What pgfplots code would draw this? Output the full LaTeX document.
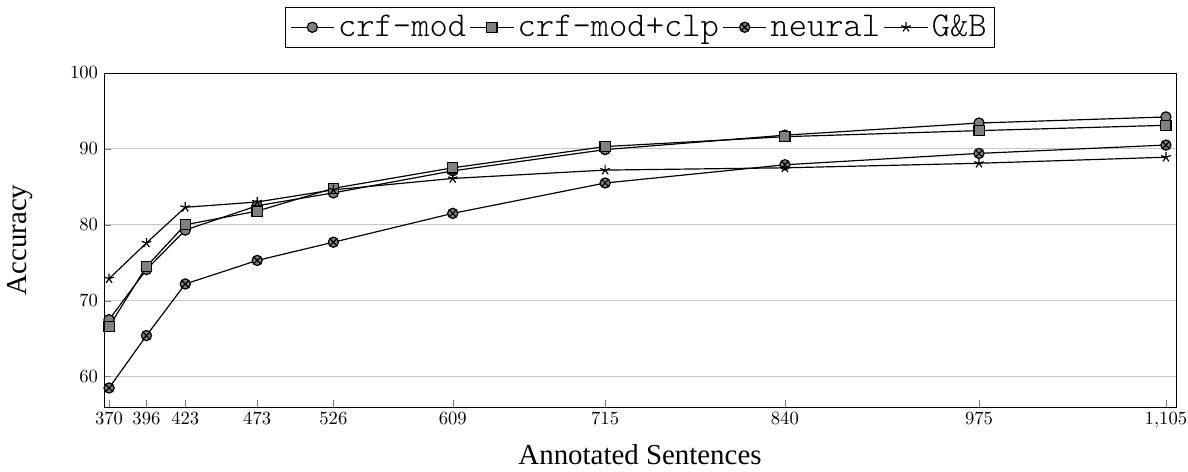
\documentclass[border=0pt]{standalone}
\usepackage[no-math]{fontspec}
\setmainfont{Liberation Serif}
\newfontfamily\legmono{Latin Modern Mono Light}
\usepackage{pgfplots}
\pgfplotsset{compat=1.18}
\begin{document}
\begin{tikzpicture}
\begin{axis}[
  scale only axis,
  width=630.6pt, height=196.5pt,
  xmin=366.5, xmax=1112, ymin=56, ymax=100,
  xtick={370,396,423,473,526,609,715,840,975,1105},
  ytick={60,70,80,90,100},
  tick pos=left,
  ymajorgrids,
  grid style={gray!45, line width=0.5pt},
  xlabel={Annotated Sentences},
  ylabel={Accuracy},
  label style={font=\fontsize{17}{20}\selectfont},
  xlabel style={at={(axis description cs:0.5,-0.1437)}, anchor=center},
  ylabel style={at={(axis description cs:-0.0784,0.5)}, anchor=center},
  tick label style={font=\fontsize{10.5}{12}\selectfont},
  legend columns=-1,
  legend style={at={(0.5,1.076)}, anchor=south, draw=black, line width=0.6pt,
    inner sep=2.5pt,
    font=\legmono\fontsize{20.5}{23}\selectfont},
  legend image code/.code={\draw[mark repeat=2,mark phase=2] plot coordinates {(0cm,0cm)(0.45cm,0cm)(0.9cm,0cm)};},
  every axis plot/.append style={black, line width=0.7pt, mark size=3pt},
]
\addplot[black, mark=*, mark options={fill=gray, solid}] coordinates {
(370,67.5) (396,74.1) (423,79.3) (473,82.5) (526,84.2) (609,87.1) (715,89.9) (840,91.8) (975,93.4) (1105,94.2)};
\addlegendentry{crf-mod}
\addplot[black, mark=square*, mark options={fill=gray, solid}] coordinates {
(370,66.6) (396,74.5) (423,80.0) (473,81.8) (526,84.8) (609,87.5) (715,90.3) (840,91.6) (975,92.4) (1105,93.1)};
\addlegendentry{crf-mod+clp}
\addplot[black, mark=otimes*, mark options={fill=gray, solid}] coordinates {
(370,58.5) (396,65.4) (423,72.2) (473,75.3) (526,77.7) (609,81.5) (715,85.5) (840,87.9) (975,89.4) (1105,90.5)};
\addlegendentry{neural}
\addplot[black, mark=star, mark options={solid}] coordinates {
(370,72.9) (396,77.6) (423,82.3) (473,83.0) (526,84.6) (609,86.1) (715,87.2) (840,87.5) (975,88.1) (1105,88.9)};
\addlegendentry{G\&B}
\end{axis}
\pgfresetboundingbox
\path[use as bounding box] ([shift={(-61.2pt,-38.2pt)}]current axis.south west) rectangle ([shift={(7.06pt,42.9pt)}]current axis.north east);
\end{tikzpicture}
\end{document}
